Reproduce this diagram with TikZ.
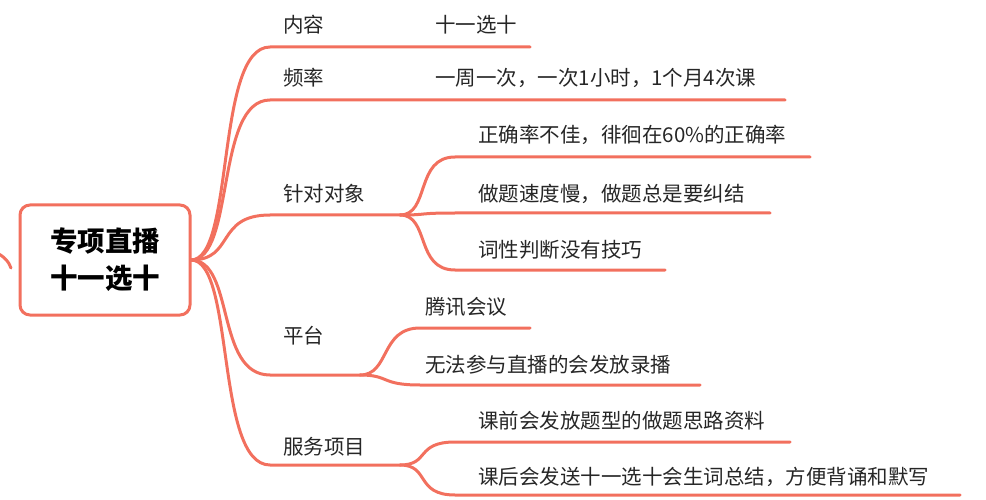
\documentclass[tikz,border=0pt]{standalone}
\usepackage{fontspec}
\setmainfont{Noto Sans CJK SC}
\definecolor{br}{HTML}{F2705E}
\begin{document}
\begin{tikzpicture}[x=1pt,y=-1pt,
  ln/.style={draw=br,line width=3pt,line cap=round},
  lbl/.style={anchor=base west,inner sep=0pt,font=\fontsize{20.5}{24}\selectfont,text=black!85}]
\useasboundingbox (0,0) rectangle (986,500);
% left stub
\draw[ln] (-5,252) .. controls (4,256) and (9,262) .. (11,268);
% root
\node[draw=br,line width=3pt,rounded corners=10pt,fill=white,minimum width=170pt,minimum height=110pt,align=center,font=\fontsize{27.5}{37}\selectfont\bfseries] (root) at (105,260) {专项直播\\十一选十};
\coordinate (r) at (191,260);
% main branches
\foreach \y/\e [count=\i] in {47/530,100/785,215/400,375/360,465/400}{
  \coordinate (s\i) at (270,\y);
  \coordinate (e\i) at (\e,\y);
  \draw[ln] (r) .. controls (235,260) and (215,\y) .. (s\i) -- (e\i);
}
\node[lbl] (l1) at (283,33) {内容};
\node[lbl] (v1) at (435,33) {十一选十};
\node[lbl] (l2) at (283,86) {频率};
\node[lbl] (v2) at (435,86) {一周一次，一次1小时，1个月4次课};
\node[lbl] (l3) at (283,201) {针对对象};
\node[lbl] (l4) at (283,343) {平台};
\node[lbl] (l5) at (283,454) {服务项目};
% sub branches
\foreach \p/\y/\e/\x [count=\i] in {e3/157/810/455,e3/213/770/455,e3/270/665/455,e4/328/530/420,e4/385/700/420,e5/442/790/455,e5/495/960/455}{
  \coordinate (t\i) at (\x,\y);
  \coordinate (u\i) at (\e,\y);
  \draw[ln] (\p) .. controls ([xshift=30]\p) and ([xshift=-40]t\i) .. (t\i) -- (u\i);
}
\node[lbl] (a1) at (478,143) {正确率不佳，徘徊在60\%的正确率};
\node[lbl] (a2) at (478,202) {做题速度慢，做题总是要纠结};
\node[lbl] (a3) at (478,257) {词性判断没有技巧};
\node[lbl] (b1) at (425,314) {腾讯会议};
\node[lbl] (b2) at (425,372) {无法参与直播的会发放录播};
\node[lbl] (c1) at (478,428) {课前会发放题型的做题思路资料};
\node[lbl] (c2) at (478,484) {课后会发送十一选十会生词总结，方便背诵和默写};
\end{tikzpicture}
\end{document}
